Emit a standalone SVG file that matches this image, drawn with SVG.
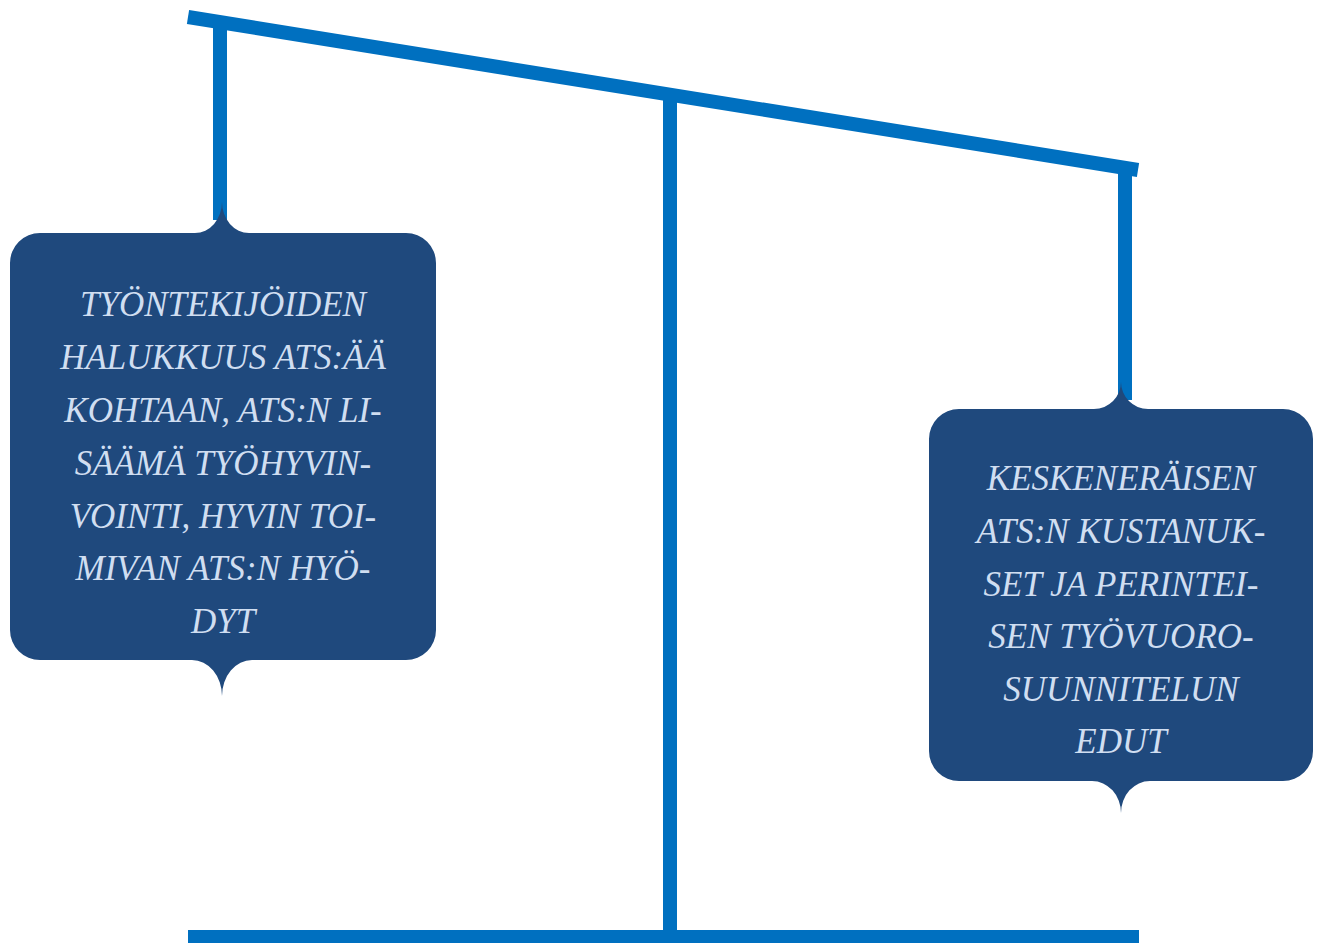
<svg xmlns="http://www.w3.org/2000/svg" width="1320" height="943" viewBox="0 0 1320 943">
<style>
.bar{stroke:#0070C0;stroke-width:14;fill:none;stroke-linecap:butt}
.box{fill:#1F497D}
.t{font-family:"Liberation Serif","DejaVu Serif",serif;font-style:italic;font-size:35px;fill:#D0DEF1;text-anchor:middle}
</style>
<rect width="1320" height="943" fill="#FFFFFF"/>
<g id="connectors">
<line class="bar" x1="188" y1="17" x2="1138" y2="170"/>
<line class="bar" x1="220" y1="20" x2="220" y2="220"/>
<line class="bar" x1="670" y1="95" x2="670" y2="932"/>
<line class="bar" x1="1125" y1="168" x2="1125" y2="400"/>
<line class="bar" x1="188" y1="937" x2="1139" y2="937"/>
</g>
<g id="left-box">
<path class="box" d="M40,233 H195 A27,31 0 0 0 222,202 A27,31 0 0 0 249,233 H406 A30,30 0 0 1 436,263 V630 A30,30 0 0 1 406,660 H252 A30,36 0 0 0 222,696 A30,36 0 0 0 192,660 H40 A30,30 0 0 1 10,630 V263 A30,30 0 0 1 40,233 Z"/>
<text class="t" x="223" y="316">TYÖNTEKIJÖIDEN</text>
<text class="t" x="223" y="369">HALUKKUUS ATS:ÄÄ</text>
<text class="t" x="223" y="422">KOHTAAN, ATS:N LI-</text>
<text class="t" x="223" y="475">SÄÄMÄ TYÖHYVIN-</text>
<text class="t" x="223" y="528">VOINTI, HYVIN TOI-</text>
<text class="t" x="223" y="580">MIVAN ATS:N HYÖ-</text>
<text class="t" x="223" y="633">DYT</text>
</g>
<g id="right-box">
<path class="box" d="M959,409 H1094 A27,27 0 0 0 1121,382 A27,27 0 0 0 1148,409 H1283 A30,30 0 0 1 1313,439 V751 A30,30 0 0 1 1283,781 H1150 A29,32 0 0 0 1121,813 A29,32 0 0 0 1092,781 H959 A30,30 0 0 1 929,751 V439 A30,30 0 0 1 959,409 Z"/>
<text class="t" x="1121" y="490">KESKENERÄISEN</text>
<text class="t" x="1121" y="543">ATS:N KUSTANUK-</text>
<text class="t" x="1121" y="596">SET JA PERINTEI-</text>
<text class="t" x="1121" y="648">SEN TYÖVUORO-</text>
<text class="t" x="1121" y="701">SUUNNITELUN</text>
<text class="t" x="1121" y="753">EDUT</text>
</g>
</svg>
